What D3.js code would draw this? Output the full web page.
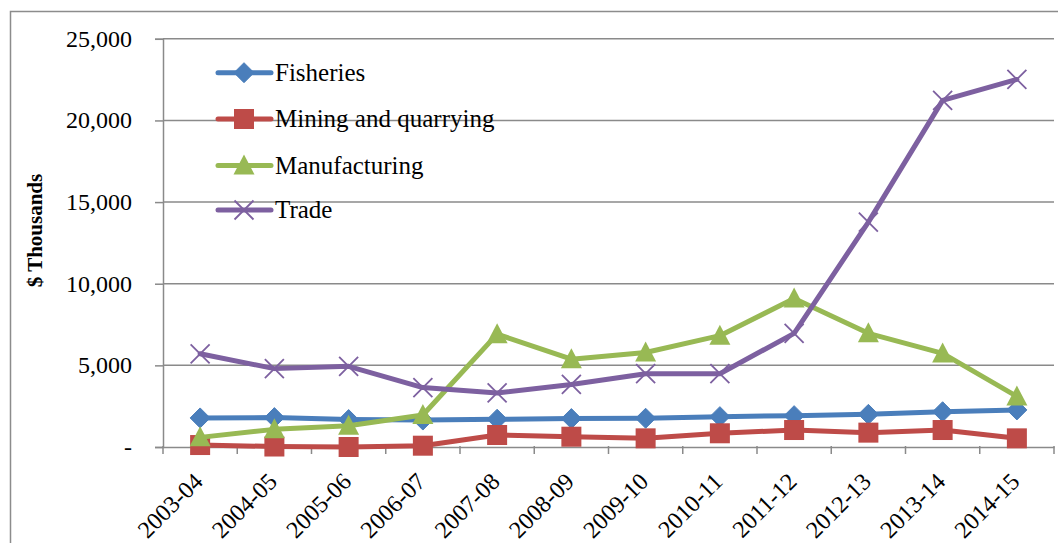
<!DOCTYPE html>
<html>
<head>
<meta charset="utf-8">
<script src="https://cdn.jsdelivr.net/npm/d3@7"></script>
</head>
<body style="margin:0">
<svg id="chart" width="1058" height="543"></svg>
<script>
const categories = ["2003-04","2004-05","2005-06","2006-07","2007-08","2008-09","2009-10","2010-11","2011-12","2012-13","2013-14","2014-15"];
const fisheries     = [1780, 1800, 1680, 1650, 1700, 1740, 1760, 1860, 1920, 2000, 2160, 2270];
const mining        = [120, 30, 0, 80, 735, 630, 530, 840, 1040, 880, 1040, 530];
const manufacturing = [590, 1080, 1300, 1960, 6910, 5380, 5790, 6820, 9090, 6960, 5730, 3100];
const trade         = [5710, 4800, 4940, 3640, 3310, 3830, 4490, 4490, 6960, 13770, 21230, 22510];
const yTicks = [0, 5000, 10000, 15000, 20000, 25000];
const yTitle = "$ Thousands";

const series = [
  { name: "Fisheries", values: fisheries, color: "#4a7ebb", marker: "diamond" },
  { name: "Mining and quarrying", values: mining, color: "#be4b48", marker: "square" },
  { name: "Manufacturing", values: manufacturing, color: "#98b954", marker: "triangle" },
  { name: "Trade", values: trade, color: "#7d60a0", marker: "x" }
];

const FONT = '"Liberation Serif"';
const svg = d3.select("#chart");
const L = 163, R = 1054, T = 38.8, B = 447;
const GRID = "#8a8a8a";

// outer border
svg.append("path")
  .attr("d", `M10.5,543 L10.5,11.5 L1058,11.5`)
  .attr("fill", "none").attr("stroke", "#8c8c8c").attr("stroke-width", 1.5);

const x = d3.scaleBand().domain(categories).range([L, R]).padding(0);
const y = d3.scaleLinear().domain([0, 25000]).range([B, T]);
const cx = d => x(d) + x.bandwidth() / 2;

// gridlines
svg.append("g").selectAll("line").data(yTicks.filter(d => d > 0)).join("line")
  .attr("x1", L).attr("x2", R)
  .attr("y1", d => y(d)).attr("y2", d => y(d))
  .attr("stroke", GRID).attr("stroke-width", 1.5);

// y axis
const yAxis = d3.axisLeft(y).tickValues(yTicks).tickSize(8).tickFormat("");
const gy = svg.append("g").attr("transform", `translate(${L},0)`).call(yAxis);
gy.select(".domain").attr("stroke", GRID).attr("stroke-width", 1.5);
gy.selectAll(".tick line").attr("stroke", GRID).attr("stroke-width", 1.5);
gy.selectAll(".tick text").remove();
yTicks.forEach(t => {
  svg.append("text")
    .attr("x", L - 31).attr("y", y(t) + 8)
    .attr("text-anchor", "end")
    .style("font-family", FONT).style("font-size", "24px")
    .text(t === 0 ? "-" : d3.format(",")(t));
});

// x axis
const xAxis = d3.axisBottom(x).tickSize(0).tickFormat("");
const gx = svg.append("g").attr("transform", `translate(0,${B})`).call(xAxis);
gx.select(".domain").attr("stroke", GRID).attr("stroke-width", 1.5);
gx.selectAll(".tick").remove();
const bounds = categories.map(c => x(c)).concat([R]);
svg.append("g").selectAll("line").data(bounds).join("line")
  .attr("x1", d => d).attr("x2", d => d)
  .attr("y1", B - 1).attr("y2", B + 7)
  .attr("stroke", GRID).attr("stroke-width", 1.5);

// x labels
categories.forEach(c => {
  svg.append("text")
    .attr("transform", `translate(${cx(c) + 4},${B + 36}) rotate(-45)`)
    .attr("text-anchor", "end")
    .style("font-family", FONT).style("font-size", "24px")
    .text(c);
});

// y title
svg.append("text")
  .attr("transform", `translate(42,${(173 + 288) / 2}) rotate(-90)`)
  .attr("text-anchor", "middle")
  .style("font-family", FONT).style("font-size", "21px").style("font-weight", "bold")
  .text(yTitle);

function drawMarker(g, type, color) {
  if (type === "diamond") {
    g.append("path").attr("d", "M0,-10 L10,0 L0,10 L-10,0 Z").attr("fill", color).attr("stroke", color).attr("stroke-width", 1);
  } else if (type === "square") {
    g.append("rect").attr("x", -10).attr("y", -10).attr("width", 20).attr("height", 20).attr("fill", color);
  } else if (type === "triangle") {
    g.append("path").attr("d", "M0,-11 L10.5,9 L-10.5,9 Z").attr("fill", color);
  } else {
    g.append("path").attr("d", "M-9.5,-9.5 L9.5,9.5 M-9.5,9.5 L9.5,-9.5").attr("stroke", color).attr("stroke-width", 1.8).attr("fill", "none");
  }
}

const line = d3.line().x((d, i) => cx(categories[i])).y(d => y(d));

series.forEach(s => {
  const g = svg.append("g");
  g.append("path").datum(s.values).attr("d", line)
    .attr("fill", "none").attr("stroke", s.color).attr("stroke-width", 5)
    .attr("stroke-linejoin", "round").attr("stroke-linecap", "round");
  s.values.forEach((v, i) => {
    const m = g.append("g").attr("transform", `translate(${cx(categories[i])},${y(v)})`);
    drawMarker(m, s.marker, s.color);
  });
});

// legend
const legendRows = [72.7, 119, 165.6, 210];
series.forEach((s, i) => {
  const g = svg.append("g").attr("transform", `translate(0,${legendRows[i]})`);
  g.append("line").attr("x1", 218).attr("x2", 271).attr("y1", 0).attr("y2", 0)
    .attr("stroke", s.color).attr("stroke-width", 5).attr("stroke-linecap", "round");
  const m = g.append("g").attr("transform", "translate(244,0)");
  drawMarker(m, s.marker, s.color);
  svg.append("text").attr("x", 275).attr("y", legendRows[i] + 8)
    .style("font-family", FONT).style("font-size", "25px")
    .text(s.name);
});
</script>
</body>
</html>
